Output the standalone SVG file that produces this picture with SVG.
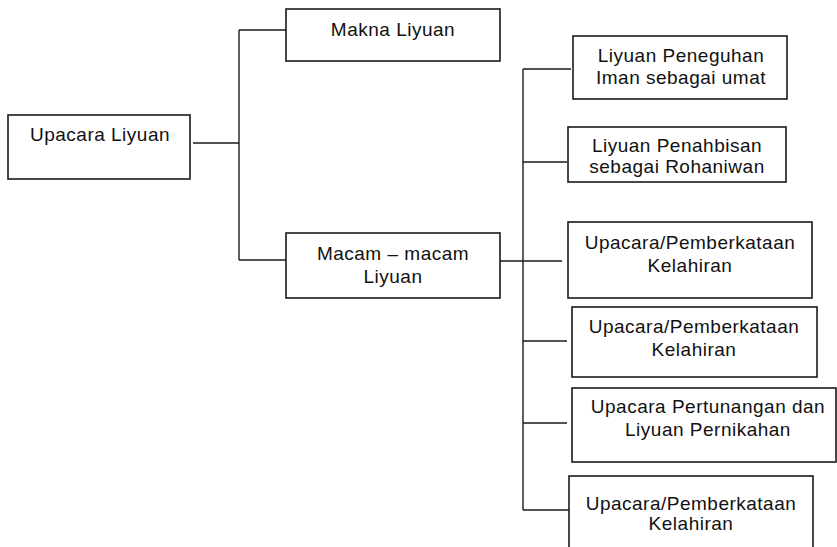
<svg xmlns="http://www.w3.org/2000/svg" width="837" height="547" viewBox="0 0 837 547">
<style>
.n rect{fill:#fff;stroke:#1a1a1a;stroke-width:1.6}
text{font-family:"Liberation Sans",Arial,sans-serif;font-size:19px;letter-spacing:0.5px;fill:#111;text-anchor:middle}
.c line{stroke:#1a1a1a;stroke-width:1.4}
</style>
<rect width="837" height="547" fill="#fff"/>
<g class="c" id="connectors">
<line x1="193" y1="143" x2="239" y2="143"/>
<line x1="239" y1="30" x2="239" y2="260"/>
<line x1="239" y1="30" x2="286" y2="30"/>
<line x1="239" y1="260" x2="286" y2="260"/>
<line x1="497" y1="261" x2="562" y2="261"/>
<line x1="523" y1="69" x2="523" y2="510"/>
<line x1="523" y1="69" x2="571" y2="69"/>
<line x1="523" y1="162" x2="567" y2="162"/>
<line x1="523" y1="341" x2="567" y2="341"/>
<line x1="523" y1="423" x2="567" y2="423"/>
<line x1="523" y1="510" x2="569" y2="510"/>
</g>
<g class="n" id="upacara-liyuan"><rect x="8" y="115" width="182" height="64"/><text x="100" y="141">Upacara Liyuan</text></g>
<g class="n" id="makna-liyuan"><rect x="286" y="9" width="214" height="52"/><text x="393" y="36">Makna Liyuan</text></g>
<g class="n" id="macam-liyuan"><rect x="286" y="233" width="214" height="65"/><text x="393" y="260">Macam – macam</text><text x="393" y="283">Liyuan</text></g>
<g class="n" id="peneguhan"><rect x="573" y="36" width="214" height="63"/><text x="681" y="62">Liyuan Peneguhan</text><text x="681" y="84">Iman sebagai umat</text></g>
<g class="n" id="penahbisan"><rect x="568" y="127" width="218" height="55"/><text x="677" y="152">Liyuan Penahbisan</text><text x="677" y="173">sebagai Rohaniwan</text></g>
<g class="n" id="kelahiran-1"><rect x="568" y="222" width="244" height="76"/><text x="690" y="249">Upacara/Pemberkataan</text><text x="690" y="272">Kelahiran</text></g>
<g class="n" id="kelahiran-2"><rect x="572" y="307" width="245" height="70"/><text x="694" y="333">Upacara/Pemberkataan</text><text x="694" y="356">Kelahiran</text></g>
<g class="n" id="pertunangan"><rect x="572" y="388" width="264" height="74"/><text x="708" y="413">Upacara Pertunangan dan</text><text x="708" y="436">Liyuan Pernikahan</text></g>
<g class="n" id="kelahiran-3"><rect x="569" y="476" width="244" height="80"/><text x="691" y="510">Upacara/Pemberkataan</text><text x="691" y="530">Kelahiran</text></g>
</svg>
